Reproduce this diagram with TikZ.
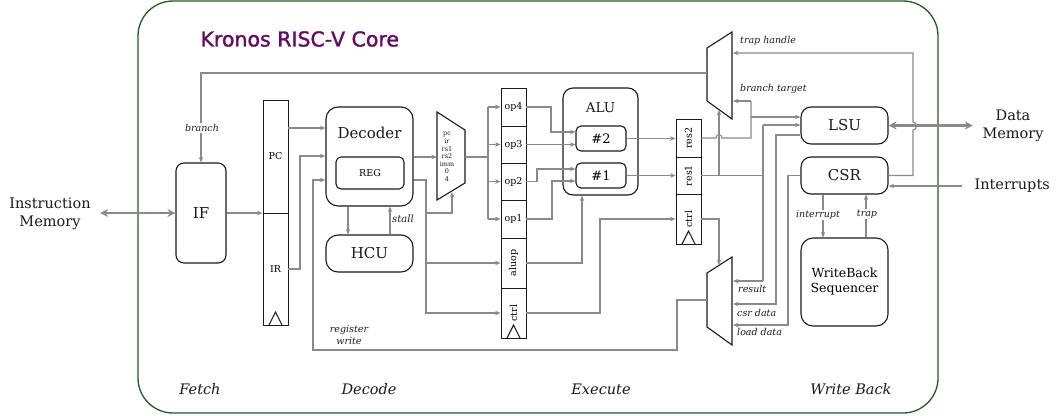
\documentclass[tikz,border=0pt]{standalone}
\usepackage{fontspec}
\setmainfont{DejaVu Serif}
\newfontfamily\titlefont[FakeBold=1.5]{DejaVu Sans}
\usetikzlibrary{arrows.meta,calc}
\definecolor{wirec}{HTML}{8A8A8A}
\definecolor{framec}{HTML}{235A23}
\definecolor{inkc}{HTML}{1A1A1A}
\definecolor{titlec}{HTML}{650A65}
\newcommand{\fs}[1]{\fontsize{#1}{1.2\dimexpr#1pt\relax}\selectfont}
\begin{document}
\begin{tikzpicture}[x=1pt,y=-1pt,
  blk/.style={draw=inkc, line width=1.1pt, inner sep=0pt, rounded corners=#1},
  blk/.default=10pt,
  preg/.style={draw=inkc, line width=0.9pt, minimum width=25pt, inner sep=0pt, font=\fs{9.5}},
  mux/.style={draw=inkc, line width=1.1pt, line join=miter},
  wln/.style={draw=wirec, line width=1.1pt},
  arr/.style={draw=wirec, line width=1.1pt, -{Stealth[length=5.5pt,width=4.5pt]}},
  dbl/.style={draw=wirec, line width=2.4pt, {Stealth[length=8pt,width=8pt]}-{Stealth[length=8pt,width=8pt]}},
  ital/.style={font=\fs{9.5}\itshape, inner sep=1pt, text=inkc},
  stage/.style={font=\fs{14.5}\itshape, text=inkc},
  big/.style={font=\fs{15}, text=inkc},
  ext/.style={font=\fontsize{14.5}{18}\selectfont, align=center, text=inkc},
  clk/.style={draw=inkc, line width=1.1pt, line join=miter}
]
\useasboundingbox (0,0) rectangle (1064,415);

% outer frame
\draw[draw=framec, line width=1.3pt, rounded corners=35pt] (138,1) rectangle (938,413);
\node[font=\titlefont\fontsize{20.5}{24}\selectfont, text=titlec, anchor=west] (title) at (197,39) {Kronos RISC-V Core};

% stage labels
\node[stage] (sfetch) at (200,389) {Fetch};
\node[stage] (sdecode) at (369,389) {Decode};
\node[stage] (sexec) at (601,389) {Execute};
\node[stage] (swb) at (851,389) {Write Back};

% external labels
\node[ext] (imem) at (50,214) {Instruction\\Memory};
\node[ext] (dmem) at (1013,126) {Data\\Memory};
\node[ext, anchor=west] (intr) at (971,186) {Interrupts};

% fetch
\node[blk=8pt, minimum width=50pt, minimum height=100pt, big] (if) at (201,213) {IF};

% IF/ID register
\node[preg, minimum height=113pt] (pc) at (275.5,156.5) {PC};
\node[preg, minimum height=112pt] (ir) at (275.5,269) {IR};
\draw[clk] (269,325) -- (275.5,312) -- (282,325);

% decoder, reg, hcu
\node[blk=12pt, minimum width=87pt, minimum height=99pt] (dec) at (369.5,156.5) {};
\node[big] (dect) at (369.5,133) {Decoder};
\node[blk=5pt, minimum width=68pt, minimum height=32pt, font=\fs{9.5}] (reg) at (370,173) {REG};
\node[blk=12pt, minimum width=87pt, minimum height=37pt, big] (hcu) at (369.5,253.5) {HCU};

% operand mux
\draw[mux] (437,112) -- (465,130) -- (465,183) -- (437,200) -- cycle;
\node[font=\fontsize{6.5}{7.6}\selectfont, align=center, inner sep=0pt, text=inkc] (omuxl) at (447,157) {pc\\ir\\rs1\\rs2\\imm\\0\\4};
\coordinate (omi) at (437,157);
\coordinate (omo) at (465,157);
\coordinate (oms) at (452,192);

% ID/EX register
\node[preg, minimum height=38pt] (op4) at (513.5,107) {op4};
\node[preg, minimum height=37pt] (op3) at (513.5,144.5) {op3};
\node[preg, minimum height=37pt] (op2) at (513.5,181.5) {op2};
\node[preg, minimum height=38pt] (op1) at (513.5,219) {op1};
\node[preg, minimum height=50pt] (aluop) at (513.5,263) {\rotatebox{90}{aluop}};
\node[preg, minimum height=50pt] (ctrl1) at (513.5,313) {\rotatebox{90}{ctrl}};
\draw[clk] (507,338) -- (513.5,325) -- (520,338);

% ALU
\node[blk=10pt, minimum width=75pt, minimum height=107pt] (alu) at (600.5,141.5) {};
\node[big, font=\fs{13.5}] (alut) at (600.5,108) {ALU};
\node[blk=5pt, minimum width=50pt, minimum height=25pt, font=\fs{13}] (alu2) at (601,138.5) {\#2};
\node[blk=5pt, minimum width=50pt, minimum height=25pt, font=\fs{13}] (alu1) at (601,175.5) {\#1};

% EX/WB register
\node[preg, minimum height=38pt] (res2) at (688.5,138) {\rotatebox{90}{res2}};
\node[preg, minimum height=37pt] (res1) at (688.5,175.5) {\rotatebox{90}{res1}};
\node[preg, minimum height=50pt] (ctrl2) at (688.5,219) {\rotatebox{90}{ctrl}};
\draw[clk] (682,244) -- (688.5,231) -- (695,244);

% next-pc mux
\draw[mux] (707,48) -- (732,32) -- (732,119) -- (707,101) -- cycle;
\coordinate (nmo) at (707,73);
\coordinate (nmth) at (733,53);
\coordinate (nmbt) at (733,101);
\coordinate (nmsel) at (719,110);

% writeback mux
\draw[mux] (707,273) -- (732,257) -- (732,345) -- (707,327) -- cycle;
\coordinate (wmo) at (707,300);
\coordinate (wmsel) at (719,265);

% LSU, CSR, WB
\node[blk=10pt, minimum width=87pt, minimum height=37pt, big] (lsu) at (844.5,125.5) {LSU};
\node[blk=10pt, minimum width=87pt, minimum height=37pt, big] (csr) at (844.5,175.5) {CSR};
\node[blk=12pt, minimum width=87pt, minimum height=88pt, font=\fontsize{12.5}{15}\selectfont, align=center] (wb) at (844.5,282) {WriteBack\\Sequencer};

% ---------- connectors ----------
\draw[dbl] ([xshift=6pt]if.west -| imem.east) -- (if.west);
\draw[arr] (if.east) -- (if.east -| ir.west);
\draw[arr] (nmo) -| (if.north);
\node[ital, fill=white] (brl) at (202,128) {branch};

\draw[arr] (pc.east |- 0,128) -- (dec.west |- 0,128);
\draw[arr] (ir.east) -- (300,269) -- (300,156) -- (dec.west |- 0,156);
\draw[arr] (wmo) -- (677,300) -- (677,350) -- (313,350) -- (313,180) -- (dec.west |- 0,180);
\node[ital, align=center, font=\fontsize{9.5}{12}\selectfont\itshape] (rwl) at (349,335) {register\\write};

\draw[arr] (dec.east |- omi) -- (omi);
\draw[arr] (dec.east |- 0,180) -| (426,313) -- (ctrl1.west);
\draw[arr] (426,263) -- (aluop.west);
\draw[arr] (426,213) -| (oms);
\draw[arr] (dec.south -| 348,0) -- (hcu.north -| 348,0);
\draw[arr] (hcu.north -| 390,0) -- (dec.south -| 390,0);
\node[ital, anchor=west, font=\fs{10}\itshape] (stl) at (391,219) {stall};

\draw[wln] (omo) -- (488,157);
\draw[wln] (488,107) -- (488,219);
\foreach \n in {op4,op3,op2,op1} \draw[arr] (\n.west -| 488,0) -- (\n.west);

\draw[arr] (op4.east) -- (551,107) -- (551,132) -- (alu2.west |- 0,132);
\draw[arr] (op3.east) -- (alu2.west |- op3.east);
\draw[arr] (op2.east) -- (537,181.5) -- (537,169) -- (alu1.west |- 0,169);
\draw[arr] (op1.east) -- (552,219) -- (552,181) -- (alu1.west |- 0,181);
\draw[arr] (aluop.east) -| (alu.south -| 582,0);
\draw[arr] (ctrl1.east) -- (600,313) -- (600,219) -- (ctrl2.west);

\draw[arr] (alu2.east) -- (alu2.east -| res2.west);
\draw[arr] (alu1.east) -- (alu1.east -| res1.west);

\draw[wln] (res2.east) -- (716,138) .. controls (716,133.5) and (722,133.5) .. (722,138) -- (751,138) -- (751,101);
\draw[arr] (751,101) -- (nmbt);
\draw[arr] (751,117) -- (lsu.west |- 0,117);

\draw[arr] (res1.east) -| (nmsel);
\draw[wln] (719,175.5) -- (763,175.5);
\draw[wln] (763,125) -- (763,281);
\draw[arr] (763,125) -- (lsu.west |- 0,125);
\draw[arr] (763,281) -- (733,281);
\draw[arr] (lsu.west |- 0,135) -- (776,135) -- (776,304) -- (733,304);
\draw[arr] (csr.west) -- (788,175.5) -- (788,325) -- (733,325);
\draw[arr] (ctrl2.east) -| (wmsel);

\draw[arr] (csr.east) -- (913,175.5) -- (913,130) .. controls (917.5,130) and (917.5,122) .. (913,122) -- (913,53) -- (nmth);
\draw[dbl] ([xshift=-6pt]dmem.west |- lsu.east) -- (lsu.east);
\draw[arr] ([xshift=-9pt]intr.west) -- (intr.west -| csr.east);

\draw[arr] (csr.south -| 823,0) -- (wb.north -| 823,0);
\draw[arr] (wb.north -| 866,0) -- (csr.south -| 866,0);
\node[ital, fill=white] (intl) at (818,215) {interrupt};
\node[ital, fill=white] (trl) at (867,214) {trap};

\node[ital, anchor=west] (thl) at (739,41) {trap handle};
\node[ital, anchor=west] (btl) at (739,89) {branch target};
\node[ital, anchor=west] (rsl) at (737,289) {result};
\node[ital, anchor=west] (cdl) at (736,313) {csr data};
\node[ital, anchor=west] (ldl) at (736,332) {load data};
\end{tikzpicture}
\end{document}
